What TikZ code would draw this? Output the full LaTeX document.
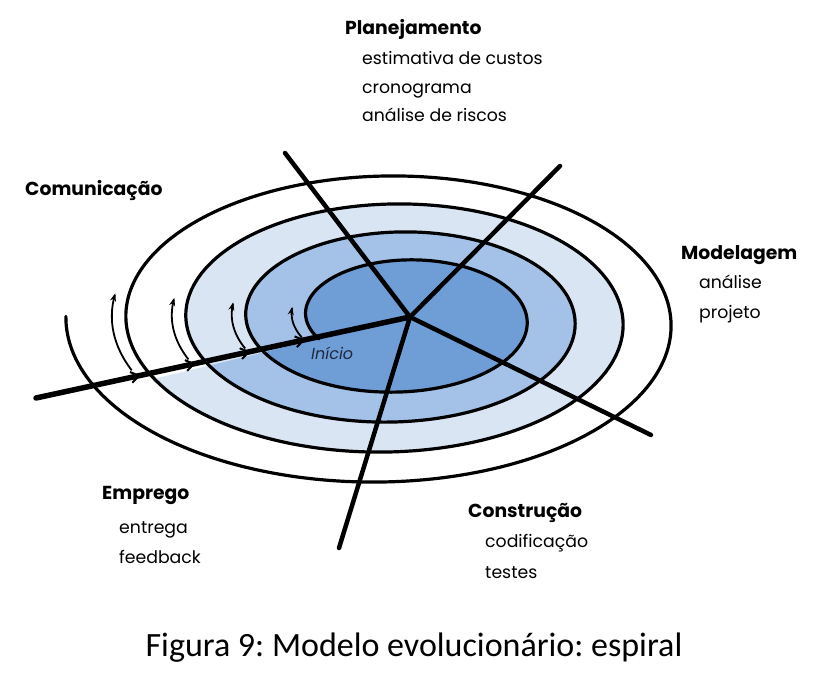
\documentclass[tikz,border=0pt]{standalone}
\usepackage{fontspec}
\usetikzlibrary{arrows.meta,decorations.markings}
\newfontfamily\labelfont{Poppins}
\newfontfamily\capfont{Carlito}
\definecolor{ringdark}{RGB}{111,157,214}
\definecolor{ringmid}{RGB}{164,194,232}
\definecolor{ringlight}{RGB}{218,229,244}
\definecolor{inicio}{RGB}{30,40,64}
\frenchspacing
\begin{document}
\begin{tikzpicture}[x=1pt,y=-1pt,
  arm/.style={line width=3.2pt,line join=round,line cap=round},
  ray/.style={line width=4.5pt,line cap=round},
  flowline/.style={line width=5.5pt,line cap=round},
  tiny/.style={line width=1.8pt,-{Stealth[length=8pt,width=6pt]}},
  head/.style={font=\labelfont\bfseries\fontsize{18.8}{21}\selectfont,anchor=base west,inner sep=0pt},
  item/.style={font=\labelfont\fontsize{17.3}{20}\selectfont,anchor=base west,inner sep=0pt},
  barbs/.style={postaction={decorate,decoration={markings,
     mark=at position 0.28 with {\arrow{Straight Barb[length=8pt,width=11pt,line width=2pt]}},
     mark=at position 0.4267 with {\arrow{Straight Barb[length=8pt,width=11pt,line width=2pt]}},
     mark=at position 0.5733 with {\arrow{Straight Barb[length=8pt,width=11pt,line width=2pt]}},
     mark=at position 0.72 with {\arrow{Straight Barb[length=8pt,width=11pt,line width=2pt]}}}}}]
\useasboundingbox (0,0) rectangle (826,685);
\fill[white] (0,0) rectangle (826,685);
% spiral fills
\fill[ringlight] plot[domain=695:1055,samples=150,smooth,variable=\t]
  ({404.5-(\t/360)*6-(98.5+(\t/360)*54)*cos(\t)},{318.25+(\t/360)-(51.25+(\t/360)*29)*sin(\t)}) -- cycle;
\fill[ringmid] plot[domain=335:695,samples=150,smooth,variable=\t]
  ({404.5-(\t/360)*6-(98.5+(\t/360)*54)*cos(\t)},{318.25+(\t/360)-(51.25+(\t/360)*29)*sin(\t)}) -- cycle;
\fill[ringdark] plot[domain=-25:335,samples=150,smooth,variable=\t]
  ({404.5-(\t/360)*6-(98.5+(\t/360)*54)*cos(\t)},{318.25+(\t/360)-(51.25+(\t/360)*29)*sin(\t)}) -- cycle;
% spiral arm
\draw[arm] plot[domain=-25:1442,samples=500,smooth,variable=\t]
  ({404.5-(\t/360)*6-(98.5+(\t/360)*54)*cos(\t)},{318.25+(\t/360)-(51.25+(\t/360)*29)*sin(\t)});
% small direction arrows
\foreach \n in {0,1,2,3}{
  \draw[tiny] plot[domain=360*\n-20:360*\n+11,samples=30,smooth,variable=\t]
  ({404.5-(\t/360)*6-(112.5+(\t/360)*54)*cos(\t)},{318.25+(\t/360)-(58.25+(\t/360)*29)*sin(\t)});
}
% radial lines
\coordinate (hub) at (410,317);
\coordinate (ulend) at (285,153);
\coordinate (urend) at (560,166);
\coordinate (lrend) at (651,435);
\coordinate (bend) at (339,548);
\coordinate (lstart) at (36,398);
\draw[ray] (hub) -- (ulend);
\draw[ray] (hub) -- (urend);
\draw[ray] (hub) -- (lrend);
\draw[ray] (hub) -- (bend);
\draw[flowline,barbs] (lstart) -- (hub);
% labels
\node[font=\labelfont\itshape\fontsize{16}{18}\selectfont,text=inicio,anchor=base west,inner sep=0pt] (ini) at (311,359) {Início};
\node[head] (plan) at (345,35) {Planejamento};
\node[item] (p1) at (362,64) {estimativa de custos};
\node[item] (p2) at (362,93) {cronograma};
\node[item] (p3) at (362,121) {análise de riscos};
\node[head] (com) at (25,195) {Comunicação};
\node[head] (mod) at (681,259) {Modelagem};
\node[item] (m1) at (699,288) {análise};
\node[item] (m2) at (699,318) {projeto};
\node[head] (emp) at (102,499) {Emprego};
\node[item] (e1) at (119,533) {entrega};
\node[item] (e2) at (119,563) {feedback};
\node[head] (con) at (468,517) {Construção};
\node[item] (c1) at (485,547) {codificação};
\node[item] (c2) at (485,578) {testes};
\node[font=\capfont\fontsize{34}{40}\selectfont,anchor=base,inner sep=0pt] (cap) at (414,656) {Figura 9: Modelo evolucionário: espiral};
\end{tikzpicture}
\end{document}
